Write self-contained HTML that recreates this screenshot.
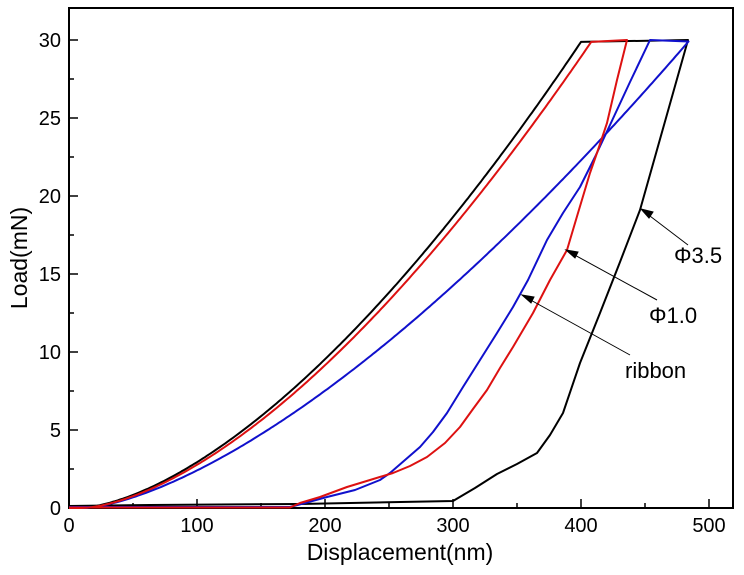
<!DOCTYPE html>
<html><head><style>body{margin:0;background:#fff}svg{display:block}</style></head><body>
<svg id="s" width="744" height="575" xmlns="http://www.w3.org/2000/svg" font-family="Liberation Sans, sans-serif">
<rect x="69" y="8" width="664" height="500" fill="none" stroke="#000" stroke-width="2"/>
<g id="ticks" stroke="#000" stroke-width="1.5"></g>
<g font-size="20" fill="#000" text-anchor="middle">
<text x="69" y="532">0</text><text x="197" y="532">100</text><text x="325" y="532">200</text><text x="453" y="532">300</text><text x="581" y="532">400</text><text x="709" y="532">500</text>
</g>
<g font-size="20" fill="#000" text-anchor="end">
<text x="61" y="515">0</text><text x="61" y="437">5</text><text x="61" y="359">10</text><text x="61" y="281">15</text><text x="61" y="203">20</text><text x="61" y="125">25</text><text x="61" y="47">30</text>
</g>
<text x="400" y="560" font-size="23" text-anchor="middle">Displacement(nm)</text>
<text transform="translate(27,258) rotate(-90)" font-size="23" text-anchor="middle">Load(mN)</text>
<g id="curves" fill="none" stroke-width="2" stroke-linejoin="round"></g>
<g stroke="#000" stroke-width="1" fill="#000">
<line x1="688" y1="245" x2="646" y2="213"/><polygon points="641,209 653,212 649,218"/>
<line x1="657" y1="300" x2="571" y2="253"/><polygon points="566,250 578,252 575,258"/>
<line x1="630" y1="355" x2="527" y2="298"/><polygon points="522,295 534,297 531,303"/>
</g>
<g font-size="22" fill="#000"><text x="674" y="263">Φ3.5</text><text x="649" y="323">Φ1.0</text><text x="625" y="378">ribbon</text></g>
</svg>
<script>
var ns="http://www.w3.org/2000/svg",t=document.getElementById('ticks'),c=document.getElementById('curves');
function ln(x1,y1,x2,y2){var l=document.createElementNS(ns,'line');l.setAttribute('x1',x1);l.setAttribute('y1',y1);l.setAttribute('x2',x2);l.setAttribute('y2',y2);t.appendChild(l);}
for(var i=0;i<=10;i++){var x=69+i*64,L=i%2?5:9;ln(x,508,x,508-L);}
for(var j=0;j<=12;j++){var y=508-j*39,L=j%2?5:9;ln(69,y,69+L,y);}
function X(h){return 69+h*1.28}function Y(l){return 508-l*15.6}
function pl(pts,col){var p=document.createElementNS(ns,'polyline');p.setAttribute('points',pts.map(function(a){return a[0].toFixed(1)+','+a[1].toFixed(1)}).join(' '));p.setAttribute('stroke',col);c.appendChild(p);}
function load(h0,hm,m){var a=[[69,508]];for(var h=h0;h<=hm;h+=2){a.push([X(h),Y(30*Math.pow((h-h0)/(hm-h0),m))]);}return a;}
// black
var b=load(8,401,1.6);b.push([688,40]);b=b.concat([[664,125],[640,210],[620,262],[600,313],[580,363],[563,413],[550,435],[537,453],[517,464],[497,474],[475,488],[453,501],[300,504],[150,505],[69,506]]);pl(b,'#000');
// blue
var bl=load(12,485,1.5);bl.push([650,40]);bl=bl.concat([[630,82],[610,125],[595,157],[580,187],[563,213],[547,240],[528,280],[513,307],[497,333],[480,360],[463,387],[447,413],[433,432],[420,447],[405,460],[390,473],[380,480],[355,490],[327,497],[305,503],[290,507],[69,507]]);pl(bl,'#1010cc');
// red
var r=load(10,409,1.6);r.push([627,40]);r=r.concat([[617,80],[607,123],[598,150],[590,173],[578,213],[567,250],[550,280],[533,313],[513,347],[500,368],[487,390],[473,409],[460,427],[445,443],[427,457],[410,466],[393,473],[370,480],[347,487],[320,497],[300,503],[290,507.5],[69,507.5]]);pl(r,'#dd1111');
</script>
</body></html>
